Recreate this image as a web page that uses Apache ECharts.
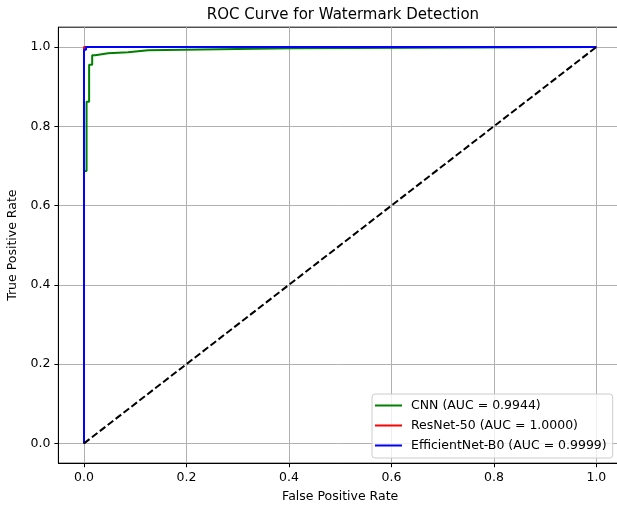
<!DOCTYPE html>
<html>
<head>
<meta charset="utf-8">
<script src="https://cdn.jsdelivr.net/npm/echarts@6/dist/echarts.min.js"></script>
<style>
  html, body { margin: 0; padding: 0; background: #fff; }
  #chart { width: 617px; height: 506px; }
</style>
</head>
<body>
<div id="chart"></div>
<script>
// ROC points
const cnnFpr = [0, 0, 0.005, 0.005, 0.010, 0.010, 0.016, 0.016, 0.022, 0.022, 0.047, 0.047, 0.086, 0.086, 0.125, 0.125, 0.404, 0.404, 1];
const cnnTpr = [0, 0.687, 0.687, 0.862, 0.862, 0.955, 0.955, 0.979, 0.979, 0.984, 0.984, 0.987, 0.987, 0.992, 0.992, 0.997, 0.997, 1, 1];
const resnetFpr = [0, 0, 1];
const resnetTpr = [0, 1, 1];
const effFpr = [0, 0, 0.004, 0.004, 1];
const effTpr = [0, 0.993, 0.993, 1, 1];
const chanceFpr = [0, 1];
const chanceTpr = [0, 1];
const seriesNames = ['CNN (AUC = 0.9944)', 'ResNet-50 (AUC = 1.0000)', 'EfficientNet-B0 (AUC = 0.9999)'];
const tickValues = [0, 0.2, 0.4, 0.6, 0.8, 1.0];

const font = 'DejaVu Sans';
const pairs = (xs, ys) => xs.map((x, i) => [x, ys[i]]);

// 坐标轴通用设置
const axisCommon = () => ({
  type: 'value',
  min: -0.05,
  max: 1.05,
  axisLine: { show: true, onZero: false, lineStyle: { color: '#000', width: 1 } },
  axisTick: { show: true, length: 4, customValues: tickValues, lineStyle: { color: '#000', width: 1 } },
  axisLabel: {
    customValues: tickValues,
    color: '#000',
    fontFamily: font,
    fontSize: 12.5,
    margin: 8,
    formatter: v => v.toFixed(1)
  },
  splitLine: { show: true, lineStyle: { color: '#b0b0b0', width: 1 } },
  nameTextStyle: { color: '#000', fontFamily: font, fontSize: 12.5 }
});

const lineSeries = (name, data, color) => ({
  name: name,
  type: 'line',
  data: data,
  symbol: 'none',
  showSymbol: false,
  lineStyle: { color: color, width: 2 },
  itemStyle: { color: color },
  emphasis: { disabled: true },
  silent: true
});

const chart = echarts.init(document.getElementById('chart'), null, { renderer: 'canvas' });
chart.setOption({
  animation: false,
  backgroundColor: '#fff',
  title: {
    text: 'ROC Curve for Watermark Detection',
    left: 338,
    textAlign: 'center',
    top: 3,
    textStyle: { color: '#000', fontFamily: font, fontSize: 15, fontWeight: 'normal' }
  },
  // 像素对齐，让 x=0 和 y=1 落在整像素上
  grid: {
    left: 58.38,
    top: 27.2,
    right: -5,
    bottom: 42.8,
    outerBoundsMode: 'none',
    containLabel: false,
    show: true,
    borderColor: '#000',
    borderWidth: 1,
    backgroundColor: 'transparent'
  },
  legend: {
    data: seriesNames,
    orient: 'vertical',
    left: 372,
    top: 394,
    padding: [5, 6, 6, 3],
    icon: 'rect',
    itemWidth: 27,
    itemHeight: 2,
    itemGap: 7,
    backgroundColor: 'rgba(255,255,255,0.8)',
    borderColor: '#cccccc',
    borderWidth: 1,
    borderRadius: 3,
    textStyle: { color: '#000', fontFamily: font, fontSize: 12.5, padding: [0, 0, 0, 4] }
  },
  xAxis: Object.assign(axisCommon(), {
    name: 'False Positive Rate',
    nameLocation: 'middle',
    nameGap: 27
  }),
  yAxis: Object.assign(axisCommon(), {
    name: 'True Positive Rate',
    nameLocation: 'middle',
    nameGap: 30
  }),
  series: [
    lineSeries(seriesNames[0], pairs(cnnFpr, cnnTpr), '#008000'),
    lineSeries(seriesNames[1], pairs(resnetFpr, resnetTpr), '#ff0000'),
    lineSeries(seriesNames[2], pairs(effFpr, effTpr), '#0000ff'),
    {
      name: 'chance',
      type: 'line',
      data: pairs(chanceFpr, chanceTpr),
      symbol: 'none',
      showSymbol: false,
      lineStyle: { color: '#000', width: 2, type: [7, 3] },
      silent: true
    }
  ]
});
</script>
</body>
</html>
